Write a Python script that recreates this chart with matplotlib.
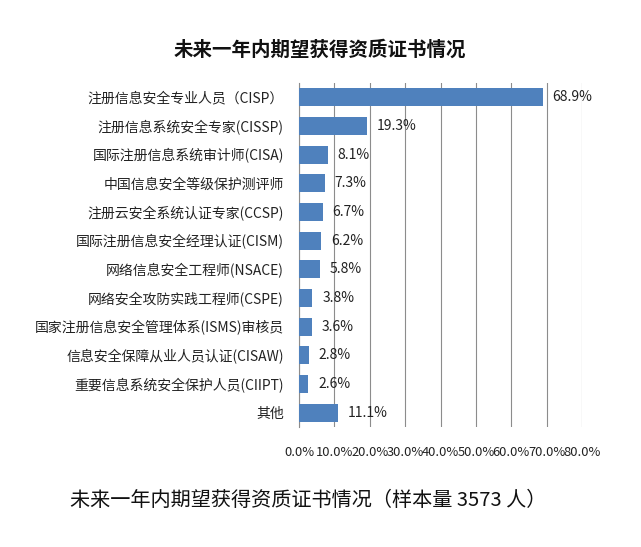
import matplotlib
matplotlib.use("Agg")
import matplotlib.pyplot as plt
from matplotlib.ticker import FuncFormatter, MultipleLocator

plt.rcParams['font.family'] = ['Noto Sans CJK SC', 'DejaVu Sans']

categories = [
    "注册信息安全专业人员（CISP）",
    "注册信息系统安全专家(CISSP)",
    "国际注册信息系统审计师(CISA)",
    "中国信息安全等级保护测评师",
    "注册云安全系统认证专家(CCSP)",
    "国际注册信息安全经理认证(CISM)",
    "网络信息安全工程师(NSACE)",
    "网络安全攻防实践工程师(CSPE)",
    "国家注册信息安全管理体系(ISMS)审核员",
    "信息安全保障从业人员认证(CISAW)",
    "重要信息系统安全保护人员(CIIPT)",
    "其他",
]
values = [68.9, 19.3, 8.1, 7.3, 6.7, 6.2, 5.8, 3.8, 3.6, 2.8, 2.6, 11.1]
title = "未来一年内期望获得资质证书情况"
caption = "未来一年内期望获得资质证书情况（样本量 3573 人）"

fig = plt.figure(figsize=(6.41, 5.47), dpi=100)
ax = fig.add_axes([299/641, 1-427/547, (582-299)/641, (427-83)/547])

y = list(range(len(categories)))
ax.barh(y, values, height=0.63, color='#4F81BD', zorder=3)
ax.set_ylim(len(categories)-0.5, -0.5)
ax.set_xlim(0, 80)
ax.set_yticks(y)
ax.set_yticklabels(categories, fontsize=10, color='#222222')
ax.xaxis.set_major_locator(MultipleLocator(10))
ax.xaxis.set_major_formatter(FuncFormatter(lambda v, p: f"{v:.1f}%"))
ax.tick_params(axis='x', length=0, labelsize=9.3, pad=14, colors='#222222')
ax.tick_params(axis='y', length=0, pad=11)
ax.grid(axis='x', color='#8c8c8c', linewidth=0.8, zorder=0)
for s in ['top', 'right', 'bottom']:
    ax.spines[s].set_visible(False)
ax.spines['left'].set_color('#8c8c8c')
ax.spines['left'].set_linewidth(0.8)

for yi, v in zip(y, values):
    ax.text(v + 2.8, yi, f"{v:.1f}%", va='center', ha='left', fontsize=10,
            color='#222222', zorder=4)

fig.text(320/641, 1-50/547, title, ha='center', va='center', fontsize=14,
         fontweight='bold', color='#111111')
fig.text(70/641, 1-500/547, caption, ha='left', va='center', fontsize=14.5,
         color='#111111', fontweight='light')

fig.savefig("out.png", dpi=100)
